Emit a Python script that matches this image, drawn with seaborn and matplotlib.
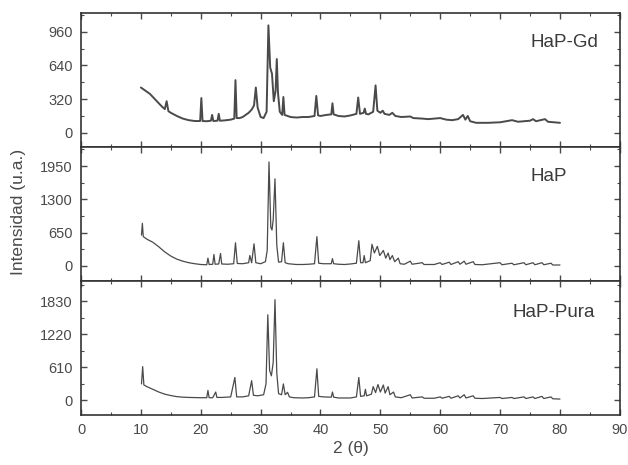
import numpy as np
import pandas as pd
import matplotlib
matplotlib.use("Agg")
import matplotlib.pyplot as plt
from matplotlib.ticker import MultipleLocator, FixedLocator
import seaborn as sns

# --- data (2 theta, intensity) ---
gd_x = [10.0, 10.5, 11, 11.5, 12, 12.5, 13, 13.5, 14, 14.3, 14.6, 15, 16, 17, 18, 19, 19.9, 20.1, 20.3,
        21, 21.7, 21.9, 22.1, 22.8, 23, 23.2, 24, 25, 25.6, 25.8, 26, 26.5, 27, 27.5, 28, 28.5, 28.9,
        29.2, 29.5, 30, 30.5, 31, 31.3, 31.6, 31.9, 32.2, 32.5, 32.7, 32.9, 33.2, 33.6, 33.8, 34.0,
        34.5, 35, 36, 37, 38, 39, 39.3, 39.6, 40, 41, 41.8, 42, 42.2, 43, 44, 45, 46, 46.3, 46.6,
        47.2, 47.4, 47.6, 48, 48.8, 49.2, 49.5, 50, 50.4, 50.7, 51.5, 52, 52.5, 53.5, 55, 55.5, 57,
        58, 60, 61, 62, 63, 63.8, 64.2, 64.6, 65, 66, 68, 70, 71, 72, 73, 75, 75.5, 76, 77.5, 78, 80]
gd_y = [430, 410, 390, 370, 340, 310, 280, 250, 225, 300, 205, 190, 160, 135, 120, 112, 112, 330, 112,
        110, 115, 170, 112, 115, 180, 115, 118, 125, 135, 500, 140, 140, 150, 170, 190, 220, 260,
        430, 240, 150, 140, 200, 1020, 620, 560, 300, 400, 700, 380, 200, 170, 340, 170,
        160, 150, 145, 150, 150, 160, 350, 165, 160, 170, 175, 280, 175, 160, 155, 165, 180, 335, 180,
        190, 230, 180, 175, 200, 450, 210, 190, 210, 180, 170, 190, 160, 150, 155, 140, 135,
        130, 140, 125, 120, 130, 170, 125, 160, 110, 95, 95, 100, 110, 120, 105, 115, 130, 110, 130, 105, 95]

hap_x = [10.1, 10.25, 10.4, 11, 12, 13, 14, 15, 16, 17, 18, 19, 20, 21, 21.2, 21.4, 22, 22.2, 22.4,
         23, 23.3, 23.5, 24.5, 25.5, 25.8, 26.1, 27, 28.0, 28.2, 28.5, 28.9, 29.2, 30, 30.8, 31.1,
         31.4, 31.7, 31.9, 32.1, 32.4, 32.7, 33.0, 33.5, 33.8, 34.1, 34.6, 35.5, 36, 37, 38, 39, 39.4,
         39.7, 40.5, 41.8, 42, 42.2, 43, 44, 45, 46, 46.4, 46.7, 47.1, 47.3, 47.5, 48.3, 48.6, 49,
         49.5, 49.9, 50.5, 50.9, 51.3, 51.6, 52, 52.4, 53, 53.3, 54, 55, 55.3, 57, 57.3, 59, 60, 60.3,
         61.5, 61.8, 63, 63.3, 64, 64.3, 65.5, 65.8, 67, 70, 70.3, 72, 72.3, 74, 74.3, 75.5, 75.8,
         77, 77.3, 78.5, 78.8, 80]
hap_y = [600, 830, 570, 520, 460, 370, 270, 190, 130, 90, 60, 40, 25, 20, 150, 25, 30, 220, 30,
         35, 240, 35, 30, 40, 450, 45, 40, 60, 200, 60, 430, 60, 40, 80, 300,
         2030, 750, 700, 900, 1700, 400, 70, 80, 450, 60, 40, 30, 25, 25, 30, 40, 570,
         50, 40, 40, 140, 40, 30, 25, 35, 50, 490, 60, 60, 200, 60, 100, 420, 250,
         380, 200, 300, 150, 250, 120, 200, 80, 150, 40, 30, 90, 30, 60, 25, 25, 60, 25,
         70, 25, 80, 30, 90, 30, 80, 25, 20, 60, 20, 50, 20, 60, 20, 60, 20,
         60, 20, 50, 15, 15]

pura_x = [10.1, 10.3, 10.5, 11, 12, 13, 14, 15, 16, 17, 18, 20, 21, 21.2, 21.4, 22, 22.5, 22.7, 23.5,
          25, 25.7, 26, 27, 28, 28.5, 28.8, 29.5, 30.5, 30.9, 31.2, 31.5, 31.8, 32.1, 32.4, 32.7, 33,
          33.5, 33.8, 34.1, 34.5, 34.8, 35.5, 37, 38, 39, 39.4, 39.7, 40.5, 41.8, 42, 42.2, 43, 45, 46,
          46.4, 46.7, 47.3, 47.5, 47.7, 48.5, 48.8, 49.2, 49.6, 50, 50.5, 50.8, 51.3, 51.6, 52.2, 52.5,
          53.5, 55, 55.3, 57, 57.3, 59, 60, 60.3, 61.5, 61.8, 63, 63.3, 64, 64.3, 65.5, 65.8, 67, 70,
          70.3, 72, 72.3, 74, 74.3, 75.5, 75.8, 77, 77.3, 78.5, 78.8, 80]
pura_y = [300, 620, 280, 250, 200, 150, 110, 85, 65, 55, 50, 45, 45, 180, 45, 45, 150, 50, 50,
          60, 420, 60, 60, 80, 360, 90, 80, 100, 300, 1580, 550, 450, 700, 1860, 500, 120,
          100, 300, 100, 145, 60, 45, 40, 45, 60, 580, 70, 60, 55, 150, 55, 40, 40, 60,
          420, 70, 80, 200, 80, 110, 250, 140, 290, 150, 280, 130, 250, 100, 150, 60,
          45, 100, 40, 60, 35, 35, 60, 35, 70, 35, 80, 40, 100, 40, 80, 35, 30, 50,
          30, 50, 30, 60, 30, 60, 30, 70, 30, 60, 25, 20]

labels = ["HaP-Gd", "HaP", "HaP-Pura"]
yticks = [[0, 320, 640, 960], [0, 650, 1300, 1950], [0, 610, 1220, 1830]]
ylims = [(-134, 1137), (-295, 2324), (-271, 2208)]
label_pos = [(0.835, 0.75), (0.835, 0.745), (0.80, 0.73)]
line_w = [1.4, 0.9, 0.9]

sns.set_style("ticks")
plt.rcParams['font.family'] = ['Liberation Sans', 'DejaVu Sans']
plt.rcParams['xtick.direction'] = 'in'
plt.rcParams['ytick.direction'] = 'in'

fig, axs = plt.subplots(3, 1, sharex=True, figsize=(6.28, 4.65), dpi=100)
fig.subplots_adjust(left=0.129, right=0.987, top=0.972, bottom=0.108, hspace=0)

series = [(gd_x, gd_y), (hap_x, hap_y), (pura_x, pura_y)]
for i, ax in enumerate(axs):
    df = pd.DataFrame({'x': series[i][0], 'y': series[i][1]})
    sns.lineplot(data=df, x='x', y='y', ax=ax, color='#4a4a4a', lw=line_w[i],
                 estimator=None, sort=False)
    ax.set_ylim(*ylims[i])
    ax.yaxis.set_major_locator(FixedLocator(yticks[i]))
    step = yticks[i][1] / 2
    ax.yaxis.set_minor_locator(FixedLocator([step * k for k in range(-1, 8)]))
    ax.set_xlim(0, 90)
    ax.xaxis.set_major_locator(MultipleLocator(10))
    ax.xaxis.set_minor_locator(MultipleLocator(5))
    ax.tick_params(which='both', top=True, right=True, labelsize=10.5, colors='#4a4a4a', pad=6)
    ax.tick_params(which='major', length=4, width=1)
    ax.tick_params(which='minor', length=2.5, width=0.8)
    for s in ax.spines.values():
        s.set_linewidth(1.2)
        s.set_color('#333333')
    ax.set_xlabel('')
    ax.set_ylabel('')
    ax.text(label_pos[i][0], label_pos[i][1], labels[i], transform=ax.transAxes,
            fontsize=13.5, color='#3a3a3a')

axs[2].set_xlabel('2 (θ)', fontsize=12.5, color='#4a4a4a', labelpad=3)
fig.text(0.029, 0.544, 'Intensidad (u.a.)', rotation=90, va='center', ha='center',
         fontsize=12.5, color='#4a4a4a')

fig.savefig('out.png', dpi=100)
